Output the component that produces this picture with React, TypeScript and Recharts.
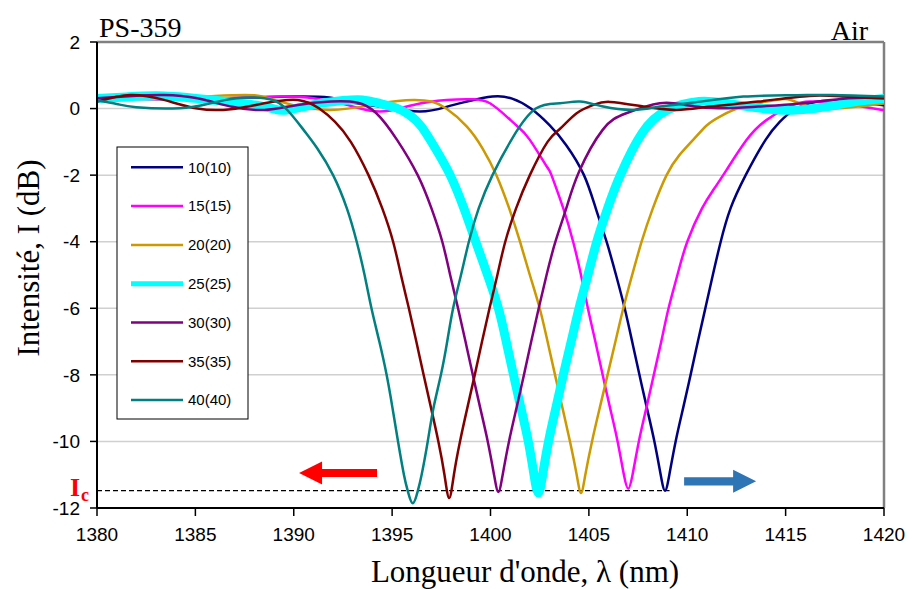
import { LineChart, Line, XAxis, YAxis, CartesianGrid, ReferenceLine, ReferenceDot } from 'recharts';

// wavelength (nm), intensity (dB)
const s10: [number, number][] = [[1380,0.32],[1382,0.3],[1384,0.28],[1386,0.3],[1388,0.33],[1390,0.36],[1391.8,0.33],[1393,0.18],[1394.4,0.06],[1396.4,-0.09],[1397.8,0.06],[1398.8,0.21],[1400.1,0.36],[1401.1,0.3],[1402.05,0.0],[1403.0,-0.5],[1403.85,-1.1],[1404.75,-2.0],[1405.35,-3.0],[1405.9,-4.0],[1406.38,-5.0],[1406.82,-6.0],[1407.2,-7.0],[1407.57,-8.0],[1407.95,-9.0],[1408.33,-10.0],[1408.65,-11.0],[1408.87,-11.48],[1409.09,-11.0],[1409.41,-10.0],[1409.79,-9.0],[1410.17,-8.0],[1410.54,-7.0],[1410.92,-6.0],[1411.3,-5.0],[1411.7,-4.0],[1412.2,-3.0],[1412.97,-2.0],[1413.98,-0.94],[1414.7,-0.4],[1415.4,-0.05],[1416.5,0.2],[1418,0.22],[1420,0.1]];
const s15: [number, number][] = [[1380,0.3],[1383,0.28],[1386,0.3],[1389.3,0.36],[1391,0.31],[1392.7,0.11],[1394.38,-0.09],[1396.08,0.11],[1397.77,0.26],[1399.13,0.28],[1399.97,0.16],[1400.82,-0.24],[1401.4,-0.55],[1402.0,-0.94],[1402.86,-1.74],[1403.1,-2.0],[1403.7,-3.0],[1404.2,-4.0],[1404.6,-5.0],[1404.95,-6.0],[1405.33,-7.0],[1405.7,-8.0],[1406.08,-9.0],[1406.46,-10.0],[1406.78,-11.0],[1407.0,-11.42],[1407.22,-11.0],[1407.54,-10.0],[1407.92,-9.0],[1408.3,-8.0],[1408.68,-7.0],[1409.05,-6.0],[1409.5,-5.0],[1410.0,-4.0],[1410.75,-3.0],[1411.33,-2.44],[1412.0,-1.84],[1413.02,-0.94],[1414.04,-0.34],[1415.39,0.11],[1416.24,0.21],[1417.4,0.18],[1419,0.05],[1420,-0.05]];
const s20: [number, number][] = [[1380,0.28],[1383,0.3],[1386,0.38],[1388,0.4],[1389.3,0.21],[1391.8,-0.04],[1394.4,0.16],[1396.1,0.26],[1397,0.21],[1397.75,0.0],[1398.8,-0.54],[1399.6,-1.2],[1400.3,-2.0],[1400.95,-3.0],[1401.5,-4.0],[1402.0,-5.0],[1402.5,-6.0],[1402.9,-7.0],[1403.28,-8.0],[1403.66,-9.0],[1404.04,-10.0],[1404.38,-11.0],[1404.6,-11.55],[1404.82,-11.0],[1405.16,-10.0],[1405.55,-9.0],[1405.95,-8.0],[1406.35,-7.0],[1406.75,-6.0],[1407.2,-5.0],[1407.68,-4.0],[1408.25,-3.0],[1408.95,-2.0],[1409.6,-1.4],[1410.3,-0.94],[1411.0,-0.5],[1411.66,-0.24],[1412.84,0.06],[1414.5,0.26],[1415.3,0.25],[1416.4,0.02],[1417.5,0.0],[1419,0.08],[1420,0.15]];
const s25: [number, number][] = [[1380,0.3],[1381.5,0.35],[1383.4,0.38],[1386,0.25],[1388.5,0.06],[1389.5,-0.05],[1391,0.12],[1392.5,0.24],[1393.5,0.26],[1394.4,0.15],[1395.2,0.02],[1395.9,-0.2],[1396.5,-0.55],[1397.2,-1.2],[1397.95,-2.0],[1398.65,-3.0],[1399.25,-4.0],[1399.85,-5.0],[1400.4,-6.0],[1400.8,-7.0],[1401.17,-8.0],[1401.55,-9.0],[1401.92,-10.0],[1402.21,-11.0],[1402.43,-11.55],[1402.65,-11.0],[1402.95,-10.0],[1403.32,-9.0],[1403.7,-8.0],[1404.1,-7.0],[1404.5,-6.0],[1404.95,-5.0],[1405.4,-4.0],[1405.95,-3.0],[1406.6,-2.0],[1407.7,-0.74],[1409.0,-0.04],[1410.6,0.21],[1411.9,0.16],[1413.6,0.02],[1415.3,-0.05],[1417,0.05],[1418.5,0.2],[1420,0.3]];
const s30: [number, number][] = [[1380,0.31],[1381.8,0.38],[1383.4,0.41],[1385.1,0.31],[1386.8,0.06],[1388.5,-0.04],[1390.2,0.11],[1391.9,0.21],[1393.2,0.18],[1394.2,-0.14],[1395.25,-0.94],[1396.3,-2.0],[1397.0,-3.0],[1397.55,-4.0],[1397.95,-5.0],[1398.35,-6.0],[1398.73,-7.0],[1399.1,-8.0],[1399.48,-9.0],[1399.86,-10.0],[1400.18,-11.0],[1400.4,-11.52],[1400.62,-11.0],[1400.94,-10.0],[1401.32,-9.0],[1401.7,-8.0],[1402.07,-7.0],[1402.45,-6.0],[1402.85,-5.0],[1403.3,-4.0],[1403.85,-3.0],[1404.5,-1.9],[1405.7,-0.64],[1406.9,-0.14],[1408.6,0.16],[1409.9,0.11],[1411.6,0.01],[1413.6,0.06],[1415.7,0.15],[1418.2,0.31],[1420,0.31]];
const s35: [number, number][] = [[1380,0.21],[1381.7,0.41],[1383.4,0.26],[1385.1,0.0],[1386.8,-0.02],[1388.5,0.16],[1390.2,0.26],[1391.3,0.0],[1392.1,-0.4],[1392.9,-1.0],[1393.8,-2.0],[1394.5,-3.0],[1395.05,-4.0],[1395.45,-5.0],[1395.85,-6.0],[1396.23,-7.0],[1396.6,-8.0],[1396.98,-9.0],[1397.35,-10.0],[1397.66,-11.0],[1397.9,-11.7],[1398.14,-11.0],[1398.45,-10.0],[1398.82,-9.0],[1399.2,-8.0],[1399.57,-7.0],[1399.95,-6.0],[1400.35,-5.0],[1400.75,-4.0],[1401.3,-3.0],[1402.0,-2.0],[1402.9,-1.0],[1403.55,-0.6],[1404.38,-0.14],[1405.23,0.11],[1406.07,0.2],[1407.77,0.06],[1409.46,-0.04],[1411.16,0.06],[1413.6,0.21],[1416.2,0.38],[1418,0.36],[1420,0.31]];
const s40: [number, number][] = [[1380,0.24],[1381,0.14],[1382,0.04],[1384.2,0.01],[1385.7,0.15],[1387.1,0.31],[1388.5,0.31],[1389.5,0.06],[1390.5,-0.64],[1391.2,-1.2],[1392.0,-2.0],[1392.7,-3.0],[1393.2,-4.0],[1393.6,-5.0],[1393.95,-6.0],[1394.35,-7.0],[1394.72,-8.0],[1395.02,-9.0],[1395.3,-10.0],[1395.6,-11.0],[1395.8,-11.5],[1396.05,-11.86],[1396.3,-11.5],[1396.5,-11.0],[1396.81,-10.0],[1397.1,-9.0],[1397.48,-8.0],[1397.8,-7.0],[1398.1,-6.0],[1398.5,-5.0],[1398.9,-4.0],[1399.4,-3.0],[1400.1,-2.0],[1401.1,-0.9],[1402.3,0.0],[1403.53,0.16],[1404.55,0.21],[1405.73,0.06],[1407.26,-0.04],[1408.61,0.06],[1410.31,0.18],[1412.85,0.36],[1415.39,0.4],[1417.4,0.41],[1420,0.36]];

const seriesNames = ['10(10)', '15(15)', '20(20)', '25(25)', '30(30)', '35(35)', '40(40)'];
const seriesColors = ['#000080', '#FF00FF', '#CC9900', '#00FFFF', '#800080', '#800000', '#008080'];
const seriesWidths = [2.5, 2.5, 2.5, 9, 2.5, 2.5, 2.5];
const seriesData = [s10, s15, s20, s25, s30, s35, s40];

const xTicks = [1380, 1385, 1390, 1395, 1400, 1405, 1410, 1415, 1420];
const yTicks = [-12, -10, -8, -6, -4, -2, 0, 2];

const icLevel = -11.48;
const icEnd = 1409.1;

const serif = '"Liberation Serif", "Times New Roman", serif';
const sans = '"Liberation Sans", Arial, sans-serif';

const redArrow = (p: any) => {
  const { cx, cy } = p;
  const pts = [[0,0],[23,-11.5],[23,-4],[78,-4],[78,4],[23,4],[23,11.5]].map(([a,b]) => `${cx+a},${cy+b}`).join(' ');
  return <polygon points={pts} fill="#FF0000" />;
};

const blueArrow = (p: any) => {
  const { cx, cy } = p;
  const pts = [[0,0],[-23,-11.5],[-23,-4.2],[-72,-4.2],[-72,4.2],[-23,4.2],[-23,11.5]].map(([a,b]) => `${cx+a},${cy+b}`).join(' ');
  return <polygon points={pts} fill="#2E75B6" />;
};

export default function App() {
  const tickStyle = { fill: '#000', fontSize: 19, fontFamily: sans };
  return (
    <div style={{ position: 'absolute', left: 0, top: 0, width: 912, height: 589, background: '#fff' }}>
      <LineChart width={912} height={589} margin={{ top: 42, right: 28, left: 47, bottom: 51 }}>
        <CartesianGrid vertical={false} stroke="#d0d0d0" strokeWidth={1.5} />
        <XAxis type="number" dataKey="x" domain={[1380, 1420]} ticks={xTicks} allowDataOverflow height={30}
          tickSize={8} tickMargin={12} tick={tickStyle}
          axisLine={{ stroke: '#000', strokeWidth: 2 }} tickLine={{ stroke: '#000', strokeWidth: 1.5 }} />
        <YAxis type="number" domain={[-12, 2]} ticks={yTicks} allowDataOverflow width={50}
          tickSize={7} tickMargin={10} tick={tickStyle}
          axisLine={{ stroke: '#000', strokeWidth: 2 }} tickLine={{ stroke: '#000', strokeWidth: 1.5 }} />
        <ReferenceLine y={2} stroke="#808080" strokeWidth={2.5} />
        <ReferenceLine x={1420} stroke="#808080" strokeWidth={2.5} />
        <ReferenceLine segment={[{ x: 1380, y: icLevel }, { x: icEnd, y: icLevel }]} stroke="#000" strokeWidth={1.2} strokeDasharray="5 3" />
        {seriesData.map((d, i) => (
          <Line key={seriesNames[i]} data={d.map(([x, y]) => ({ x, y }))} dataKey="y" type="natural"
            stroke={seriesColors[i]} strokeWidth={seriesWidths[i]} dot={false} isAnimationActive={false} />
        ))}
        <ReferenceDot x={1390.27} y={-10.95} r={1} shape={redArrow} />
        <ReferenceDot x={1413.5} y={-11.2} r={1} shape={blueArrow} />
      </LineChart>
      <svg width={912} height={589} style={{ position: 'absolute', left: 0, top: 0, pointerEvents: 'none' }}>
        <text x={99} y={37} fontFamily={serif} fontSize={28} fill="#000">PS-359</text>
        <text x={868} y={40} fontFamily={serif} fontSize={28} fill="#000" textAnchor="end">Air</text>
        <text x={525} y={582} fontFamily={serif} fontSize={31} fill="#000" textAnchor="middle">Longueur d'onde, λ (nm)</text>
        <text x={39} y={258} fontFamily={serif} fontSize={31} fill="#000" textAnchor="middle" transform="rotate(-90 39 258)">Intensité, I (dB)</text>
        <text x={70} y={496} fontFamily={serif} fontSize={26} fontWeight="bold" fill="#FF0000">I</text>
        <text x={81} y={501} fontFamily={serif} fontSize={18} fontWeight="bold" fill="#FF0000">c</text>
        <rect x={117} y={147} width={131} height={272} fill="#fff" stroke="#000" strokeWidth={1} />
        {seriesNames.map((n, i) => (
          <g key={n}>
            <line x1={131} x2={183} y1={167.3 + i * 38.8} y2={167.3 + i * 38.8} stroke={seriesColors[i]} strokeWidth={i === 3 ? 5 : 2.5} />
            <text x={188} y={167.3 + i * 38.8} dy="0.35em" fontFamily={sans} fontSize={15} fill="#000">{n}</text>
          </g>
        ))}
      </svg>
    </div>
  );
}
